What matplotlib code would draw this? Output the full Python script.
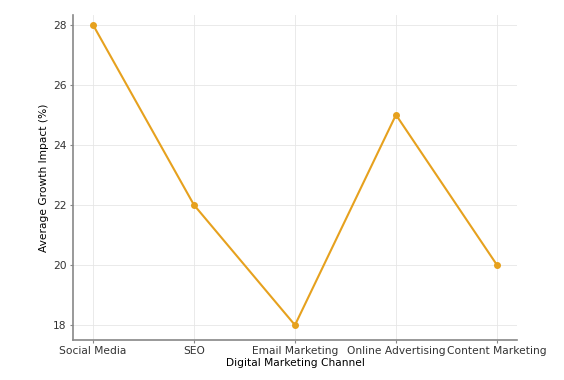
import matplotlib.pyplot as plt

channels = ["Social Media", "SEO", "Email Marketing", "Online Advertising", "Content Marketing"]
growth = [28, 22, 18, 25, 20]

fig = plt.figure(figsize=(5.64, 3.8), dpi=100)
ax = fig.add_axes([0.129, 0.105, 0.788, 0.856])

ax.plot(channels, growth, marker="o", color="#E6A11E", linewidth=1.5, markersize=4)
ax.set_ylim(17.5, 28.33)
ax.set_xlabel("Digital Marketing Channel", fontsize=7.7, labelpad=1)
ax.set_ylabel("Average Growth Impact (%)", fontsize=7.7, labelpad=3)
ax.tick_params(labelsize=7.7, colors="#333333", length=2.5, pad=2, color="#888888")
ax.grid(True, color="#e6e6e6", linewidth=0.6)
for s in ["top", "right"]:
    ax.spines[s].set_visible(False)
for s in ["left", "bottom"]:
    ax.spines[s].set_color("#888888")
    ax.spines[s].set_linewidth(1.2)

fig.savefig("out.png", dpi=100)
